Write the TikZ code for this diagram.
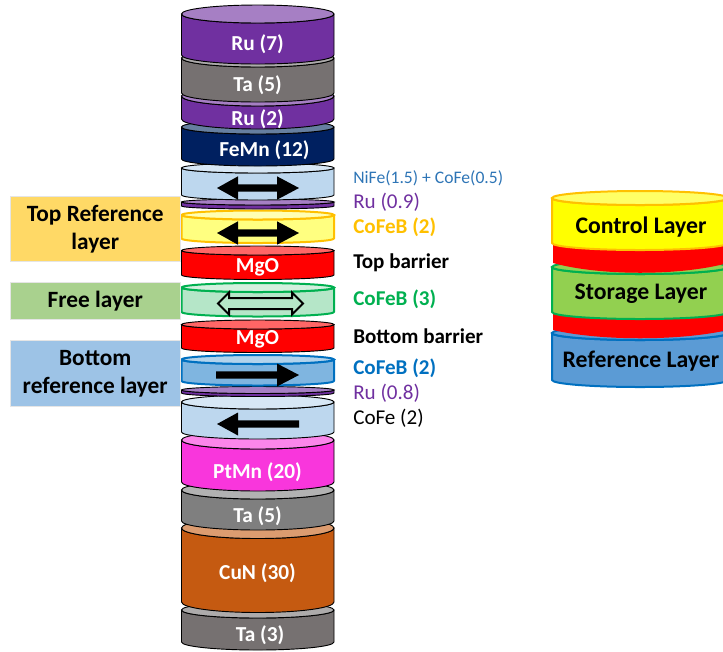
\documentclass[tikz,border=0pt]{standalone}
\usepackage{fontspec}
\setmainfont{Carlito}
\definecolor{cRuA}{HTML}{7030A0}\definecolor{cRuB}{HTML}{A67FC4}
\definecolor{cTaA}{HTML}{767171}\definecolor{cTaB}{HTML}{ADABAB}
\definecolor{cTcA}{HTML}{7F7F7F}\definecolor{cTcB}{HTML}{B2B2B2}
\definecolor{cFeA}{HTML}{002060}\definecolor{cFeB}{HTML}{667FA0}
\definecolor{cNiA}{HTML}{BDD7EE}\definecolor{cNiB}{HTML}{D7E7F5}
\definecolor{cYeA}{HTML}{FFFF80}\definecolor{cYeB}{HTML}{FFFFB3}\definecolor{cYeL}{HTML}{FFC000}
\definecolor{cMgB}{HTML}{FF6666}
\definecolor{cGrA}{HTML}{B5E6C8}\definecolor{cGrB}{HTML}{D3F0DE}\definecolor{cGrL}{HTML}{00B050}
\definecolor{cBlA}{HTML}{7FB5E0}\definecolor{cBlB}{HTML}{B2D3EC}\definecolor{cBlL}{HTML}{0070C0}
\definecolor{cPtA}{HTML}{F936DC}\definecolor{cPtB}{HTML}{FB86EA}
\definecolor{cCuA}{HTML}{C55A11}\definecolor{cCuB}{HTML}{DC9C70}
\definecolor{cCtA}{HTML}{FFFF00}\definecolor{cCtB}{HTML}{FFFF66}\definecolor{cCtL}{HTML}{FFC000}
\definecolor{cStA}{HTML}{92D050}
\definecolor{cReA}{HTML}{5B9BD5}\definecolor{cReL}{HTML}{0070C0}
\definecolor{cBoxA}{HTML}{FFD966}\definecolor{cBoxB}{HTML}{A9D18E}\definecolor{cBoxC}{HTML}{9DC3E6}
\definecolor{cNiT}{HTML}{2E75B6}
% #1 xl, #2 xr, #3 ellipse centre y, #4 ry, #5 side end y, #6 body, #7 top, #8 line, #9 width
\newcommand{\cyl}[9]{%
  \pgfmathsetmacro{\cx}{(#1+#2)/2}\pgfmathsetmacro{\rx}{(#2-#1)/2}%
  \pgfmathsetmacro{\kx}{0.5523*\rx}\pgfmathsetmacro{\ky}{0.5523*#4}%
  \draw[draw=#8,line width=#9,fill=#6,line join=round]
    (#1,#3) -- (#1,#5) .. controls (#1,#5+\ky) and (\cx-\kx,#5+#4) .. (\cx,#5+#4)
    .. controls (\cx+\kx,#5+#4) and (#2,#5+\ky) .. (#2,#5) -- (#2,#3)
    .. controls (#2,#3+\ky) and (\cx+\kx,#3+#4) .. (\cx,#3+#4)
    .. controls (\cx-\kx,#3+#4) and (#1,#3+\ky) .. (#1,#3) -- cycle;
  \draw[draw=#8,line width=#9,fill=#7]
    (#1,#3) .. controls (#1,#3+\ky) and (\cx-\kx,#3+#4) .. (\cx,#3+#4)
    .. controls (\cx+\kx,#3+#4) and (#2,#3+\ky) .. (#2,#3)
    .. controls (#2,#3-\ky) and (\cx+\kx,#3-#4) .. (\cx,#3-#4)
    .. controls (\cx-\kx,#3-#4) and (#1,#3-\ky) .. (#1,#3) -- cycle;
}
\tikzset{
  stacklabel/.style={text=white,font=\bfseries\fontsize{16}{18}\selectfont,inner sep=0pt,anchor=center},
  sidelabel/.style={anchor=west,inner sep=0pt,font=\fontsize{15.8}{18}\selectfont},
  boldside/.style={sidelabel,font=\bfseries\fontsize{15.8}{18}\selectfont},
  legendbox/.style={draw=black!10,line width=0.4pt,anchor=north west,inner sep=0pt,minimum width=127.5pt,align=center,font=\bfseries\fontsize{17.5}{21}\selectfont},
  rightlabel/.style={anchor=center,inner sep=0pt,font=\bfseries\fontsize{17.8}{20}\selectfont},
  solidarrow/.style={fill=black,draw=none},
  openarrow/.style={fill=cGrA,draw=black,line width=1.5pt,line join=miter},
}
\begin{document}
\begin{tikzpicture}[x=0.75pt,y=-0.75pt]
\useasboundingbox (0,0) rectangle (723,651);
\clip (0,0) rectangle (723,651);
% stack, bottom layer first
\cyl{181.5}{334}{610}{8}{642}{cTaA}{cTaB}{black}{0.7pt}
\cyl{181.5}{334}{528}{10.5}{602}{cCuA}{cCuB}{black}{0.7pt}
\cyl{181.5}{334}{490}{9}{521}{cTcA}{cTcB}{black}{0.7pt}
\cyl{181.5}{334}{440}{9}{482}{cPtA}{cPtB}{black}{0.7pt}
\cyl{181.5}{334}{402}{7}{432}{cNiA}{cNiB}{black}{0.7pt}
\cyl{181.5}{334}{390}{3.5}{393}{cRuA}{cRuB}{black}{0.7pt}
\cyl{181.5}{334}{359.5}{4.5}{381}{cBlA}{cBlB}{cBlL}{1.5pt}
\cyl{181.5}{334}{324.5}{4.5}{348}{red}{cMgB}{black}{0.7pt}
\cyl{181.5}{334}{287.5}{4.5}{312}{cGrA}{cGrB}{cGrL}{1.5pt}
\cyl{181.5}{334}{250.5}{4.5}{275}{red}{cMgB}{black}{0.7pt}
\cyl{181.5}{334}{215}{4.5}{238.5}{cYeA}{cYeB}{cYeL}{1.5pt}
\cyl{181.5}{334}{202}{3}{206}{cRuA}{cRuB}{black}{0.7pt}
\cyl{181.5}{334}{168}{5}{195}{cNiA}{cNiB}{black}{0.7pt}
\cyl{181.5}{334}{127}{7}{159}{cFeA}{cFeB}{black}{0.7pt}
\cyl{181.5}{334}{96}{10}{119}{cRuA}{cRuB}{black}{0.7pt}
\cyl{181.5}{334}{58}{9}{93}{cTaA}{cTaB}{black}{0.7pt}
\cyl{181.5}{334}{14}{9}{55}{cRuA}{cRuB}{black}{0.7pt}
% arrows
\fill[solidarrow] (217,188) -- (238,176.3) -- (238,184.3) -- (277,184.3) -- (277,176.3) -- (299,188) -- (277,199.7) -- (277,191.7) -- (238,191.7) -- (238,199.7) -- cycle;
\fill[solidarrow] (217,233) -- (238,221.3) -- (238,229.3) -- (277,229.3) -- (277,221.3) -- (299,233) -- (277,244.7) -- (277,236.7) -- (238,236.7) -- (238,244.7) -- cycle;
\filldraw[openarrow] (218,303.5) -- (229,292.5) -- (229,298) -- (292,298) -- (292,292.5) -- (303,303.5) -- (292,314.5) -- (292,309) -- (229,309) -- (229,314.5) -- cycle;
\fill[solidarrow] (216,371.3) -- (277,371.3) -- (277,363.5) -- (299,375) -- (277,386.5) -- (277,378.7) -- (216,378.7) -- cycle;
\fill[solidarrow] (299,420.3) -- (238,420.3) -- (238,412.5) -- (217,424) -- (238,435.5) -- (238,427.7) -- (299,427.7) -- cycle;
% stack labels
\node[stacklabel] (ru7) at (257.5,44) {Ru (7)};
\node[stacklabel] (ta5) at (257.5,85) {Ta (5)};
\node[stacklabel] (ru2) at (257.5,119) {Ru (2)};
\node[stacklabel] (femn) at (264.5,150) {FeMn (12)};
\node[stacklabel] (mgoa) at (257.5,267) {MgO};
\node[stacklabel] (mgob) at (257.5,339.5) {MgO};
\node[stacklabel] (ptmn) at (257.5,472) {PtMn (20)};
\node[stacklabel] (tab) at (257.5,516) {Ta (5)};
\node[stacklabel] (cun) at (257.5,573) {CuN (30)};
\node[stacklabel] (tac) at (260,635) {Ta (3)};
% side labels
\node[sidelabel,text=cNiT,font=\fontsize{13.2}{15}\selectfont] (nife) at (353,178.5) {NiFe(1.5) + CoFe(0.5)};
\node[sidelabel,text=cRuA] (rua) at (353,202) {Ru (0.9)};
\node[boldside,text=cYeL] (cfa) at (353,227.5) {CoFeB (2)};
\node[boldside] (topb) at (353,262.5) {Top barrier};
\node[boldside,text=cGrL] (cfb) at (353,299.5) {CoFeB (3)};
\node[boldside] (botb) at (353,336.5) {Bottom barrier};
\node[boldside,text=cBlL] (cfc) at (353,368.5) {CoFeB (2)};
\node[sidelabel,text=cRuA] (rub) at (353,393.5) {Ru (0.8)};
\node[sidelabel] (cofe) at (353,418.5) {CoFe (2)};
% legend boxes
\node[legendbox,fill=cBoxA,minimum height=48.75pt] (boxa) at (10,196) {Top Reference\\layer};
\node[legendbox,fill=cBoxB,minimum height=27.75pt] (boxb) at (10,282) {Free layer};
\node[legendbox,fill=cBoxC,minimum height=49.5pt] (boxc) at (10,340) {Bottom\\reference layer};
% right stack
\cyl{552}{728}{333}{7}{380}{cReA}{cReA}{cReL}{1.5pt}
\fill[red] (553,305) rectangle (728,330);
\fill[red] (553,330) .. controls (600,341) and (680,341) .. (728,330) -- cycle;
\cyl{552}{728}{267}{7}{312}{cStA}{cStA}{cGrL}{1.5pt}
\fill[red] (553,240) rectangle (728,263);
\fill[red] (553,263) .. controls (600,276) and (680,276) .. (728,263) -- cycle;
\cyl{552}{728}{198}{7}{243}{cCtA}{cCtB}{cCtL}{1.5pt}
\node[rightlabel] (ctrl) at (641,227.5) {Control Layer};
\node[rightlabel] (stor) at (641,294) {Storage Layer};
\node[rightlabel] (refl) at (641,361.5) {Reference Layer};
\end{tikzpicture}
\end{document}
